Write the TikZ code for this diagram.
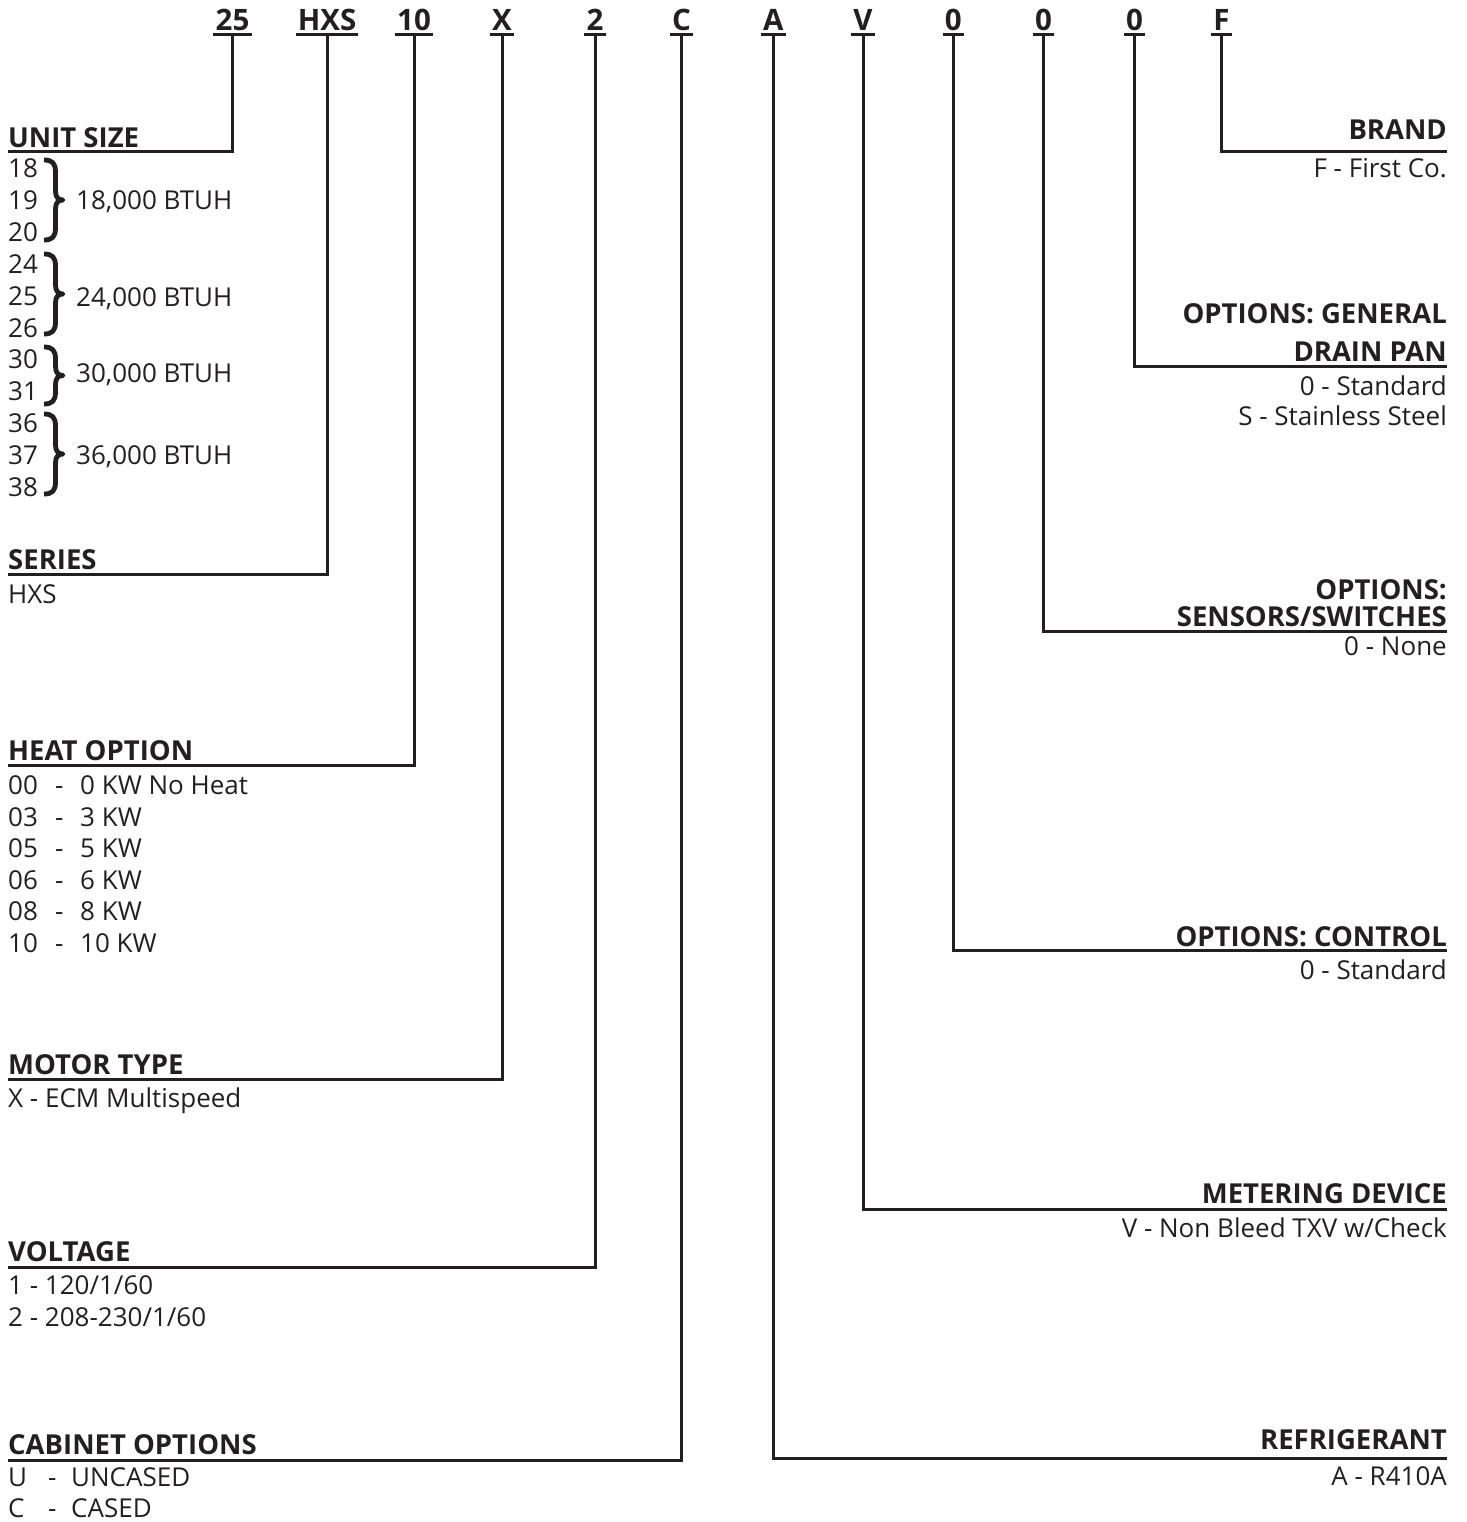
\documentclass[tikz,border=0pt]{standalone}
\usepackage{fontspec}
\setmainfont{Open Sans}
\definecolor{ink}{HTML}{231F20}
\begin{document}
\begin{tikzpicture}[x=1pt,y=-1pt,
  every node/.style={text=ink},
  code/.style={font=\fontsize{29.5}{34}\selectfont\bfseries, inner xsep=2pt, inner ysep=3.5pt, text depth=0pt, anchor=base},
  headL/.style={font=\fontsize{27.5}{32}\selectfont\bfseries, inner xsep=0pt, text depth=0pt, anchor=south west},
  headR/.style={font=\fontsize{27.5}{32}\selectfont\bfseries, inner xsep=0pt, text depth=0pt, anchor=south east},
  headTop/.style={font=\fontsize{27.5}{32}\selectfont\bfseries, inner sep=0pt, anchor=base east},
  bodyL/.style={font=\fontsize{26}{32}\selectfont, inner sep=0pt, anchor=base west},
  bodyR/.style={font=\fontsize{26}{32}\selectfont, inner sep=0pt, anchor=base east},
  rule/.style={draw=ink, line width=3pt},
  conn/.style={draw=ink, line width=3pt, line join=miter},
  bracestyle/.style={draw=ink, line width=4.8pt, line cap=butt, line join=round}
]
\useasboundingbox (0,0) rectangle (1466,1522);

% code row
\node[code] (c1) at (232.5,31) {25};
\node[code] (c2) at (327,31) {HXS};
\node[code] (c3) at (414,31) {10};
\node[code] (c4) at (502,31) {X};
\node[code] (c5) at (595,31) {2};
\node[code] (c6) at (681.5,31) {C};
\node[code] (c7) at (773.3,31) {A};
\node[code] (c8) at (863,31) {V};
\node[code] (c9) at (953.3,31) {0};
\node[code] (c10) at (1043.5,31) {0};
\node[code] (c11) at (1134.5,31) {0};
\node[code] (c12) at (1221.5,31) {F};
\foreach \c in {c1,c2,c3,c4,c5,c6,c7,c8,c9,c10,c11,c12}
  \draw[rule] (\c.south west) -- (\c.south east);

% left headings
\node[headL, inner ysep=4pt] (hUnit) at (8,152) {UNIT SIZE};
\node[headL, inner ysep=4pt] (hSeries) at (8,574) {SERIES};
\node[headL, inner ysep=4.5pt] (hHeat) at (8,765.5) {HEAT OPTION};
\node[headL, inner ysep=5pt] (hMotor) at (8,1079.3) {MOTOR TYPE};
\node[headL, inner ysep=5pt] (hVolt) at (8,1267) {VOLTAGE};
\node[headL, inner ysep=5pt] (hCab) at (8,1460) {CABINET OPTIONS};

% right headings
\node[headR, inner ysep=12pt] (hBrand) at (1447,151.7) {BRAND};
\node[headTop] (hGen) at (1447,323) {OPTIONS: GENERAL};
\node[headR, inner ysep=5pt] (hDrain) at (1447,366.7) {DRAIN PAN};
\node[headTop] (hOpt) at (1447,599) {OPTIONS:};
\node[headR, inner ysep=4pt] (hSens) at (1447,631) {SENSORS/SWITCHES};
\node[headR, inner ysep=3.5pt] (hCtrl) at (1447,950.5) {OPTIONS: CONTROL};
\node[headR, inner ysep=6pt] (hMeter) at (1447,1209.3) {METERING DEVICE};
\node[headR, inner ysep=8pt] (hRefr) at (1447,1458) {REFRIGERANT};

% connectors
\draw[conn] (c1.south) |- (hUnit.south west);
\draw[conn] (c2.south) |- (hSeries.south west);
\draw[conn] (c3.south) |- (hHeat.south west);
\draw[conn] (c4.south) |- (hMotor.south west);
\draw[conn] (c5.south) |- (hVolt.south west);
\draw[conn] (c6.south) |- (hCab.south west);
\draw[conn] (c7.south) |- (hRefr.south east);
\draw[conn] (c8.south) |- (hMeter.south east);
\draw[conn] (c9.south) |- (hCtrl.south east);
\draw[conn] (c10.south) |- (hSens.south east);
\draw[conn] (c11.south) |- (hDrain.south east);
\draw[conn] (c12.south) |- (hBrand.south east);

% unit sizes
\foreach \t [count=\i from 0] in {18,19,20,24,25,26,30,31,36,37,38}
  \node[bodyL] (u\i) at (8,177.5+31.9*\i) {\t};
\foreach \T/\B in {160/240,254/334,347/404,414/494}{
  \pgfmathsetmacro{\M}{(\T+\B)/2}
  \draw[bracestyle] (44,\T) .. controls (52,\T) and (55.5,\T+3) .. (55.5,\T+12)
     -- (55.5,\M-9) .. controls (55.5,\M-3) and (58,\M) .. (63,\M)
     .. controls (58,\M) and (55.5,\M+3) .. (55.5,\M+9)
     -- (55.5,\B-12) .. controls (55.5,\B-3) and (52,\B) .. (44,\B);
}
\node[bodyL] (b1) at (76,209.5) {18,000 BTUH};
\node[bodyL] (b2) at (76,306.5) {24,000 BTUH};
\node[bodyL] (b3) at (76,382.5) {30,000 BTUH};
\node[bodyL] (b4) at (76,464.5) {36,000 BTUH};

% series
\node[bodyL] (s1) at (8,603.5) {HXS};

% heat option
\foreach \a/\b [count=\i from 0] in {00/0 KW No Heat,03/3 KW,05/5 KW,06/6 KW,08/8 KW,10/10 KW}{
  \node[bodyL] (ha\i) at (8,794.5+31.6*\i) {\a};
  \node[bodyL] (hd\i) at (55,794.5+31.6*\i) {-};
  \node[bodyL] (hb\i) at (80,794.5+31.6*\i) {\b};
}

% motor
\node[bodyL] (m1) at (8,1107) {X - ECM Multispeed};
% voltage
\node[bodyL] (v1) at (8,1294.5) {1 - 120/1/60};
\node[bodyL] (v2) at (8,1326.5) {2 - 208-230/1/60};
% cabinet
\begin{scope}[every node/.append style={font=\fontsize{26}{32}\selectfont\addfontfeatures{FakeStretch=0.9}}]
\node[bodyL] (ka1) at (8,1486.5) {U};
\node[bodyL] (kd1) at (48,1486.5) {-};
\node[bodyL] (kb1) at (71,1486.5) {UNCASED};
\node[bodyL] (ka2) at (8,1517.5) {C};
\node[bodyL] (kd2) at (48,1517.5) {-};
\node[bodyL] (kb2) at (71,1517.5) {CASED};
\end{scope}

% right bodies
\node[bodyR] (r1) at (1447,178) {F - First Co.};
\node[bodyR] (r2) at (1447,395) {0 - Standard};
\node[bodyR] (r3) at (1447,425.5) {S - Stainless Steel};
\node[bodyR] (r4) at (1447,655) {0 - None};
\node[bodyR] (r5) at (1447,979.5) {0 - Standard};
\node[bodyR] (r6) at (1447,1237.5) {V - Non Bleed TXV w/Check};
\node[bodyR] (r7) at (1447,1485.5) {A - R410A};
\end{tikzpicture}
\end{document}
